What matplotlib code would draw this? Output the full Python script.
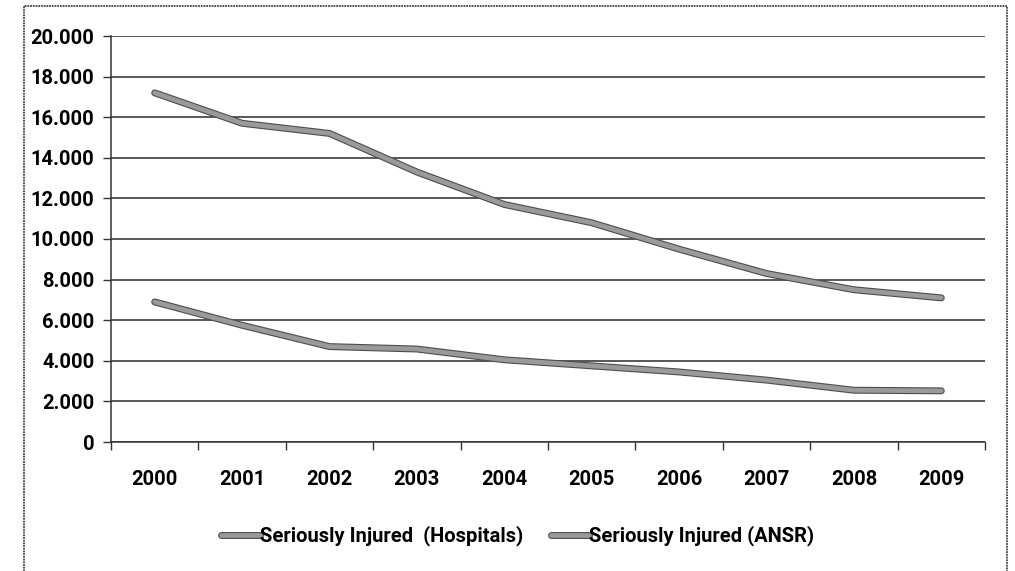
import matplotlib.pyplot as plt
import matplotlib.patheffects as pe
from matplotlib.patches import Rectangle
from matplotlib import font_manager

years = ["2000", "2001", "2002", "2003", "2004", "2005", "2006", "2007", "2008", "2009"]
hospitals = [17200, 15700, 15200, 13300, 11700, 10800, 9500, 8300, 7500, 7100]
ansr = [6900, 5750, 4700, 4580, 4050, 3750, 3450, 3050, 2550, 2520]
y_ticks = [0, 2000, 4000, 6000, 8000, 10000, 12000, 14000, 16000, 18000, 20000]
y_labels = ["0", "2.000", "4.000", "6.000", "8.000", "10.000", "12.000",
            "14.000", "16.000", "18.000", "20.000"]

names = {f.name for f in font_manager.fontManager.ttflist}
family = ["Liberation Sans Narrow"] if "Liberation Sans Narrow" in names else ["Roboto", "DejaVu Sans"]
plt.rcParams["font.family"] = family + ["DejaVu Sans"]

fig = plt.figure(figsize=(10.15, 5.71), dpi=100)
ax = fig.add_axes([111 / 1015, 1 - 442 / 571, 874 / 1015, 406 / 571])

# outer chart border, running off the bottom edge
fig.patches.append(Rectangle((24 / 1015, -0.05), 983 / 1015, 1.05 - 6 / 571,
                             transform=fig.transFigure, fill=False,
                             edgecolor="#444444", linewidth=1.3,
                             linestyle=(0, (1, 0.5))))

x = list(range(len(years)))
line_fx = [pe.Stroke(linewidth=5, foreground="#4d4d4d"), pe.Normal()]
ax.plot(x, hospitals, color="#9a9a9a", linewidth=3.4, solid_capstyle="round",
        path_effects=line_fx, label="Seriously Injured  (Hospitals)", zorder=3)
ax.plot(x, ansr, color="#9a9a9a", linewidth=3.4, solid_capstyle="round",
        path_effects=line_fx, label="Seriously Injured (ANSR)", zorder=3)

ax.set_xlim(-0.5, len(years) - 0.5)
ax.set_ylim(0, 20000)
ax.set_yticks(y_ticks)
ax.set_yticklabels(y_labels, fontsize=14.5, fontweight="bold")
ax.set_xticks(x)
ax.set_xticklabels(years, fontsize=14.5, fontweight="bold")
ax.set_xticks([i - 0.5 for i in range(len(years) + 1)], minor=True)
ax.tick_params(axis="x", which="major", length=0, pad=20)
ax.tick_params(axis="x", which="minor", length=6, width=1, color="#333333", direction="out")
ax.tick_params(axis="y", length=6, width=1, color="#333333", pad=6)

ax.grid(axis="y", color="#2a2a2a", linewidth=1.1)
ax.set_axisbelow(True)
for side in ["top", "right"]:
    ax.spines[side].set_visible(False)
ax.spines["left"].set_color("#333333")
ax.spines["bottom"].set_color("#333333")
ax.spines["left"].set_linewidth(1.1)
ax.spines["bottom"].set_linewidth(1.1)

fig.legend(loc="center", bbox_to_anchor=(518 / 1015, 1 - 536 / 571), ncol=2,
           frameon=False, handlelength=1.9, handletextpad=0.0, columnspacing=1.4,
           prop={"size": 14.5, "weight": "bold"})

fig.savefig("out.png", dpi=100)
